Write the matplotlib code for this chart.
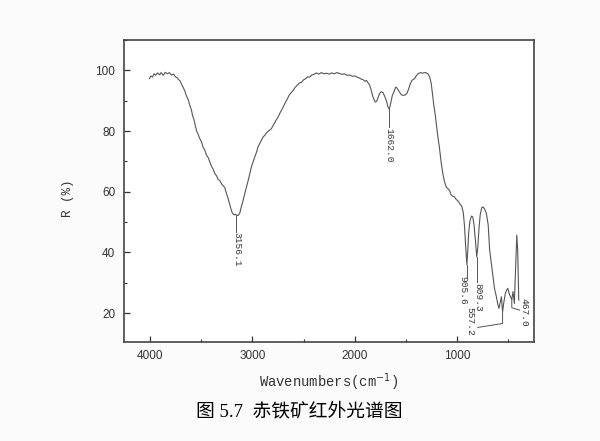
import matplotlib.pyplot as plt
from matplotlib.ticker import MultipleLocator

# spectrum (wavenumber, reflectance %)
wavenumber = [4005, 3990, 3975, 3960, 3945, 3925, 3905, 3890, 3870, 3850, 3830, 3810,
              3790, 3770, 3750, 3735, 3720, 3705, 3690, 3675, 3660, 3642, 3625, 3610,
              3595, 3584, 3570, 3558, 3545, 3530, 3515, 3496, 3480, 3464, 3450, 3430,
              3415, 3400, 3385, 3366, 3350, 3335, 3318, 3300, 3285, 3269, 3255, 3240,
              3225, 3210, 3195, 3180, 3165, 3156, 3140, 3123, 3108, 3090, 3075, 3057,
              3040, 3025, 3005, 2990, 2976, 2960, 2945, 2928, 2910, 2895, 2879, 2860,
              2840, 2814, 2795, 2770, 2749, 2730, 2710, 2684, 2660, 2640, 2620, 2603,
              2580, 2560, 2540, 2521, 2500, 2480, 2460, 2440, 2420, 2400, 2375, 2350,
              2325, 2300, 2277, 2250, 2225, 2200, 2175, 2148, 2125, 2100, 2075, 2050,
              2025, 2000, 1985, 1960, 1940, 1920, 1900, 1885, 1872, 1855, 1839, 1820,
              1800, 1787, 1774, 1758, 1741, 1725, 1709, 1690, 1675, 1662, 1648, 1633,
              1615, 1600, 1590, 1575, 1562, 1545, 1529, 1510, 1490, 1475, 1458, 1440,
              1416, 1400, 1383, 1360, 1340, 1319, 1300, 1280, 1266, 1253, 1240, 1228,
              1215, 1204, 1190, 1175, 1165, 1155, 1140, 1125, 1107, 1090, 1075, 1060,
              1045, 1026, 1010, 990, 975, 955, 940, 928, 918, 905.6, 896, 888,
              875, 860, 848, 835, 822, 809.3, 798, 787, 775, 760, 748, 735,
              715, 697, 683, 665, 650, 635, 617, 603, 591, 580, 568, 557,
              545, 530, 518, 506, 488, 467, 455, 442, 431, 418, 409, 399]
reflectance = [97.3, 98.2, 97.8, 98.9, 98.4, 99.2, 98.6, 99.3, 98.4, 99.4, 98.9, 99.3,
               98.5, 98.8, 97.9, 97.6, 97.0, 96.5, 95.4, 94.4, 93.3, 91.5, 90.3, 88.4,
               87.0, 85.2, 83.8, 82.0, 80.1, 79.0, 77.7, 76.4, 74.6, 73.8, 72.3, 71.2,
               69.8, 68.5, 67.6, 66.0, 65.3, 64.1, 63.7, 62.6, 62.0, 61.4, 59.7, 58.2,
               56.3, 54.5, 53.0, 52.4, 52.6, 52.3, 52.2, 52.9, 55.0, 57.2, 59.3, 61.6,
               63.8, 66.0, 68.7, 70.2, 71.5, 73.0, 74.8, 75.9, 77.0, 78.1, 78.6, 79.5,
               80.1, 80.8, 82.0, 83.5, 84.6, 86.0, 87.2, 89.0, 90.5, 91.9, 92.7, 93.4,
               94.5, 95.2, 95.9, 96.1, 96.9, 97.3, 97.9, 97.8, 98.5, 98.7, 99.2, 98.8,
               99.3, 98.9, 99.1, 98.8, 99.2, 98.9, 99.3, 99.0, 98.7, 98.9, 98.4, 98.5,
               98.1, 98.2, 97.9, 97.6, 97.2, 97.0, 96.4, 96.7, 96.0, 95.2, 93.4, 91.0,
               89.6, 89.8, 90.9, 92.4, 93.0, 92.7, 91.6, 89.9, 87.9, 87.2, 89.5, 91.8,
               93.2, 94.5, 94.3, 93.5, 92.8, 92.0, 91.8, 91.9, 92.5, 93.8, 95.6, 96.8,
               97.3, 98.2, 98.9, 99.3, 99.1, 99.3, 99.2, 98.7, 97.5, 95.6, 92.0, 88.5,
               85.5, 82.5, 78.5, 75.0, 72.0, 69.3, 66.0, 63.5, 61.6, 61.0, 60.5, 59.0,
               58.6, 58.3, 57.5, 56.9, 56.1, 55.2, 53.0, 48.5, 42.5, 36.0, 41.0, 46.5,
               50.5, 52.0, 51.7, 49.0, 44.0, 38.6, 42.0, 48.0, 52.5, 54.8, 55.0, 54.5,
               52.9, 49.0, 40.8, 36.0, 32.0, 28.0, 25.4, 22.8, 21.6, 23.6, 25.4, 20.4,
               23.5, 26.5, 27.5, 28.2, 26.0, 24.5, 27.1, 23.2, 34.0, 45.7, 40.7, 24.3]

# peak labels: text, peak position, end of the leader, where the text sits
peak_labels = ['3156.1', '1662.0', '905.6', '557.2', '809.3', '467.0']
peak_wn = [3156, 1662, 905.6, 557, 809.3, 467]
peak_r = [52.3, 87.2, 36.0, 20.4, 38.6, 24.5]
leader_wn = [[3156], [1662], [905.6], [557, 800], [809.3], [467, 390]]
leader_r = [[46.8], [81.3], [31.5], [16.6, 15.3], [30.3], [21.8, 21.0]]
text_wn = [3152, 1665, 945, 878, 795, 345]
text_r = [46.6, 81.2, 32.3, 22.0, 29.9, 25.0]

fig = plt.figure(figsize=(6, 4.41), dpi=100, facecolor='#fbfbfb')
ax = fig.add_axes([0.206, 0.2245, 0.684, 0.6845])
ax.set_facecolor('white')

ax.plot(wavenumber, reflectance, color='#555555', lw=0.8)

for lab, pw, pr, lw_, lr, tw, tr in zip(peak_labels, peak_wn, peak_r, leader_wn,
                                        leader_r, text_wn, text_r):
    ax.plot([pw, pw] + lw_[1:], [pr] + lr, color='#555555', lw=0.7)
    ax.text(tw, tr, lab, rotation=-90, ha='center', va='top',
            fontsize=6.8, family='Liberation Mono', color='#333333')

ax.set_xlim(4257, 250)
ax.set_ylim(10.5, 110)
ax.xaxis.set_major_locator(MultipleLocator(1000))
ax.xaxis.set_minor_locator(MultipleLocator(500))
ax.yaxis.set_major_locator(MultipleLocator(20))
ax.yaxis.set_minor_locator(MultipleLocator(10))
ax.tick_params(which='both', direction='in', colors='#333333')
ax.tick_params(which='major', length=4, width=0.9, labelsize=8.5, pad=6)
ax.tick_params(which='minor', length=2.5, width=0.8)
for lbl in ax.get_xticklabels() + ax.get_yticklabels():
    lbl.set_family('Liberation Sans')
for sp in ax.spines.values():
    sp.set_color('#444444')
    sp.set_linewidth(1.2)

ax.set_xlabel('Wavenumbers(cm$^{-1}$)', fontsize=10, family='Liberation Mono',
              color='#333333')
ax.set_ylabel('R (%)', fontsize=9, family='Liberation Mono', color='#333333')
ax.xaxis.set_label_coords(0.5, -0.096)
ax.yaxis.set_label_coords(-0.122, 0.477)

fig.text(0.498, 0.068, '图 5.7  赤铁矿红外光谱图', ha='center', va='center',
         fontsize=13.5, family=['Liberation Serif', 'Noto Sans CJK SC'])

fig.savefig('out.png', dpi=100, facecolor=fig.get_facecolor())
